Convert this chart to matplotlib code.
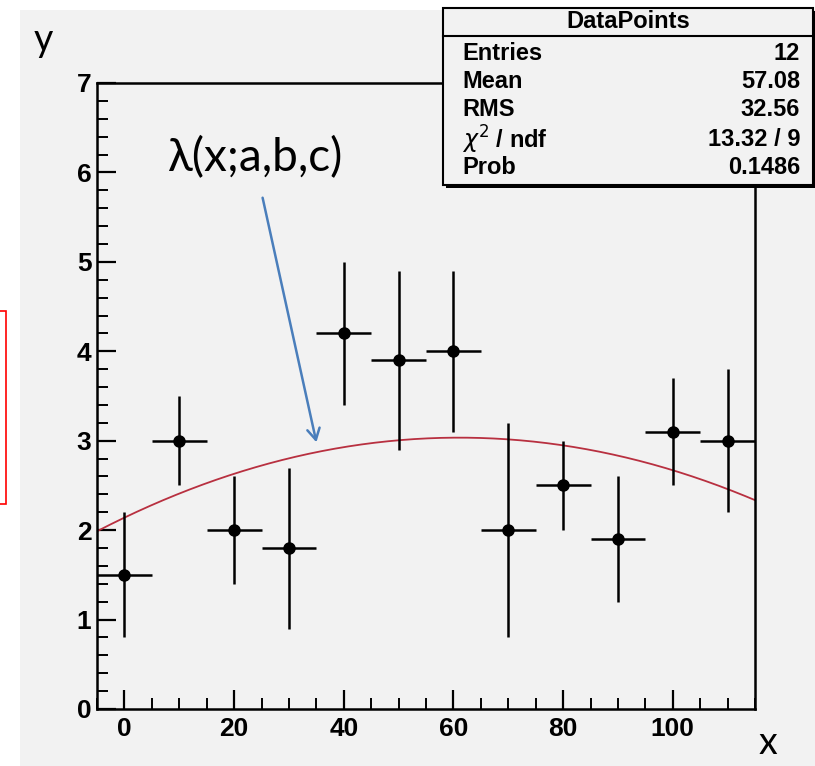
import numpy as np
import matplotlib
matplotlib.use("Agg")
import matplotlib.pyplot as plt
from matplotlib.patches import Rectangle, FancyArrowPatch
from matplotlib.ticker import MultipleLocator

# data points (bin centres, contents, errors)
x_vals = [0, 10, 20, 30, 40, 50, 60, 70, 80, 90, 100, 110]
y_vals = [1.5, 3.0, 2.0, 1.8, 4.2, 3.9, 4.0, 2.0, 2.5, 1.9, 3.1, 3.0]
y_errs = [0.7, 0.5, 0.6, 0.9, 0.8, 1.0, 0.9, 1.2, 0.5, 0.7, 0.6, 0.8]
x_errs = [5] * 12

# fitted quadratic lambda(x;a,b,c) = a + b*x + c*x^2
fit_a, fit_b, fit_c = 2.14, 0.0293, -0.00024

stats_title = "DataPoints"
stats_names = ["Entries", "Mean", "RMS", r"$\chi^{2}$ / ndf", "Prob"]
stats_values = ["12", "57.08", "32.56", "13.32 / 9", "0.1486"]

W, H = 815, 766
BG = "#f2f2f2"


def fx(px):
    return px / W


def fy(py):
    return 1 - py / H


fig = plt.figure(figsize=(W / 100, H / 100), dpi=100, facecolor="white")

# grey canvas and the stray red frame on the left
fig.patches.append(Rectangle((fx(20), 0), 1 - fx(20), fy(10), transform=fig.transFigure,
                             facecolor=BG, edgecolor="none", zorder=-10))
fig.patches.append(Rectangle((fx(-5), fy(504)), fx(11), fy(311) - fy(504), transform=fig.transFigure,
                             facecolor="none", edgecolor="red", lw=1.2, zorder=-5))

ax = fig.add_axes([fx(97), fy(709), fx(755) - fx(97), fy(83) - fy(709)])
ax.set_facecolor(BG)

xs = np.linspace(-5, 115, 200)
ax.plot(xs, fit_a + fit_b * xs + fit_c * xs ** 2, color="#b83040", lw=1.3, zorder=2)

ax.errorbar(x_vals, y_vals, yerr=y_errs, xerr=x_errs, fmt="o", color="black",
            markersize=8, elinewidth=1.8, capsize=0, zorder=3)

ax.set_xlim(-5, 115)
ax.set_ylim(0, 7)
ax.xaxis.set_major_locator(MultipleLocator(20))
ax.xaxis.set_minor_locator(MultipleLocator(5))
ax.yaxis.set_major_locator(MultipleLocator(1))
ax.yaxis.set_minor_locator(MultipleLocator(0.2))
ax.tick_params(which="major", direction="in", length=14, width=1.6, top=False, right=False)
ax.tick_params(which="minor", direction="in", length=8, width=1.4, top=False, right=False)
ax.tick_params(axis="x", which="major", pad=6)
ax.tick_params(axis="y", which="major", pad=4)
for lab in ax.get_xticklabels() + ax.get_yticklabels():
    lab.set_fontfamily("Liberation Sans")
    lab.set_fontweight("bold")
    lab.set_fontsize(19)
for sp in ax.spines.values():
    sp.set_linewidth(1.8)

# axis letters and annotation
fig.text(fx(43), fy(40), "y", fontsize=27, family=["Lato", "DejaVu Sans"], ha="center", va="center")
fig.text(fx(768), fy(743), "x", fontsize=27, family=["Lato", "DejaVu Sans"], ha="center", va="center")
fig.text(fx(255), fy(158), "λ(x;a,b,c)", fontsize=33, family=["Lato", "DejaVu Sans"],
         ha="center", va="center")
fig.add_artist(FancyArrowPatch(
    (fx(262), fy(195)), (fx(317), fy(445)), transform=fig.transFigure,
    arrowstyle="->,head_length=8,head_width=4.5", color="#4a7ebb", lw=1.8, zorder=6))

# stats box
bx0, bx1, by0, by1 = 443, 813, 8, 185
fig.patches.append(Rectangle((fx(bx0 + 3), fy(by1 + 3)), fx(bx1) - fx(bx0), fy(by0) - fy(by1),
                             transform=fig.transFigure, facecolor="black", edgecolor="none", zorder=8))
fig.patches.append(Rectangle((fx(bx0), fy(by1)), fx(bx1) - fx(bx0), fy(by0) - fy(by1),
                             transform=fig.transFigure, facecolor=BG, edgecolor="black", lw=1.5, zorder=9))
fig.add_artist(plt.Line2D([fx(bx0), fx(bx1)], [fy(36), fy(36)], transform=fig.transFigure,
                          color="black", lw=1.5, zorder=10))
fig.text((fx(bx0) + fx(bx1)) / 2, fy(22), stats_title, ha="center", va="center",
         family="Liberation Sans", weight="bold", fontsize=17, zorder=11)
row_y = [53, 82, 110, 140, 167]
for ry, name, val in zip(row_y, stats_names, stats_values):
    fig.text(fx(462), fy(ry), name, ha="left", va="center",
             family="Liberation Sans", weight="bold", fontsize=17, zorder=11)
    fig.text(fx(800), fy(ry), val, ha="right", va="center",
             family="Liberation Sans", weight="bold", fontsize=17, zorder=11)

fig.savefig("out.png", dpi=100, facecolor="white")
